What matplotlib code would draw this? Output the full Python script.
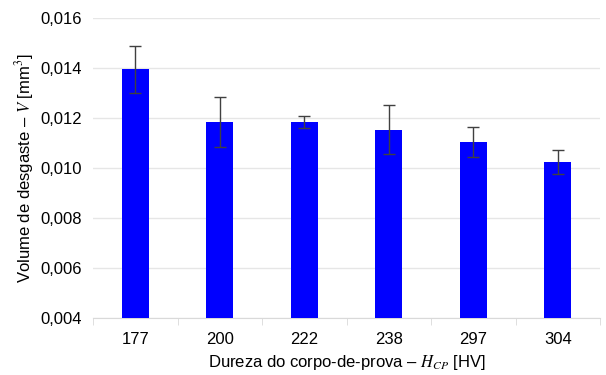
import numpy as np
import matplotlib.pyplot as plt
from matplotlib.ticker import FuncFormatter, FixedLocator

hardness = ['177', '200', '222', '238', '297', '304']
volume = [0.01396, 0.01186, 0.01184, 0.01155, 0.01106, 0.01025]
volume_err = [0.00094, 0.00099, 0.00024, 0.00098, 0.00061, 0.00047]

plt.rcParams['font.family'] = 'Liberation Sans'
plt.rcParams['mathtext.fontset'] = 'stix'

fig = plt.figure(figsize=(6.06, 3.75), dpi=100)
ax = fig.add_axes([93 / 606, 1 - 318.3 / 375, 507 / 606, 300 / 375])

x = np.arange(len(hardness))
ax.bar(x, volume, width=0.32, color='#0000ff', zorder=3)
ax.errorbar(x, volume, yerr=volume_err, fmt='none', ecolor='#404040',
            elinewidth=1, capsize=4, capthick=1, zorder=4)

ax.set_ylim(0.004, 0.016)
ax.set_xlim(-0.5, len(hardness) - 0.5)
ax.set_yticks(np.arange(0.004, 0.0161, 0.002))
ax.yaxis.set_major_formatter(FuncFormatter(lambda v, p: f'{v:.3f}'.replace('.', ',')))
ax.grid(axis='y', color='#e6e6e6', linewidth=1, zorder=0)

ax.set_xticks(x)
ax.set_xticklabels(hardness)
ax.xaxis.set_minor_locator(FixedLocator(np.arange(-0.5, len(hardness), 1.0)))
ax.tick_params(axis='x', which='major', length=0, labelsize=12, pad=10)
ax.tick_params(axis='x', which='minor', length=5, color='#d9d9d9')
ax.tick_params(axis='y', length=0, labelsize=12, pad=8)

for s in ['top', 'right', 'left']:
    ax.spines[s].set_visible(False)
ax.spines['bottom'].set_color('#d9d9d9')

ax.set_xlabel('Dureza do corpo-de-prova – $H_{CP}$ [HV]', fontsize=12, labelpad=4)
ax.set_ylabel('Volume de desgaste – $V$ [mm$^3$]', fontsize=12, labelpad=3)

fig.savefig('out.png', dpi=100)
